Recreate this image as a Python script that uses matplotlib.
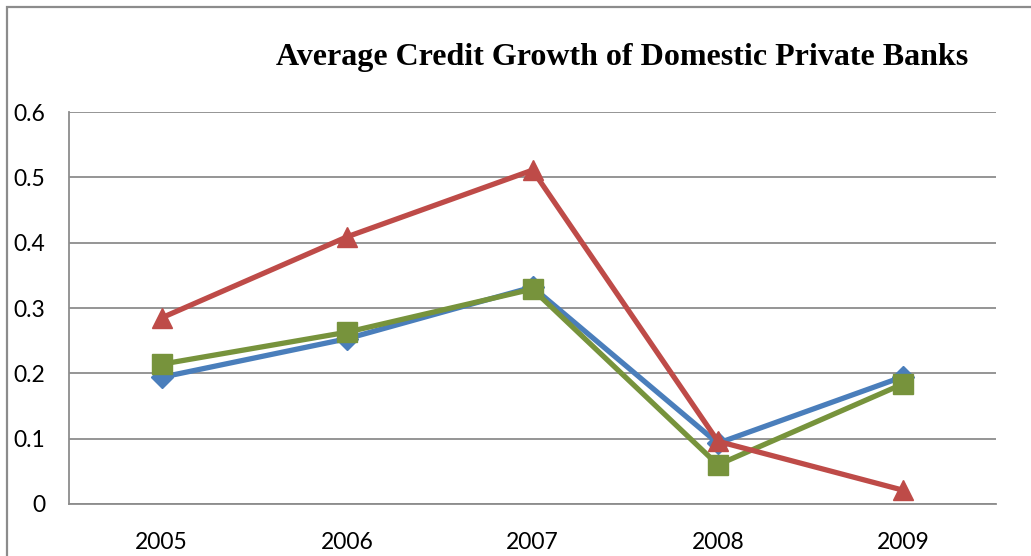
import matplotlib.pyplot as plt
from matplotlib.patches import Rectangle

years = ["2005", "2006", "2007", "2008", "2009"]
blue_vals = [0.194, 0.253, 0.332, 0.093, 0.195]
green_vals = [0.214, 0.263, 0.329, 0.060, 0.184]
red_vals = [0.285, 0.409, 0.511, 0.096, 0.021]

W, H = 1031, 556
fig = plt.figure(figsize=(W / 100, H / 100), dpi=100)
ax = fig.add_axes([69 / W, 1 - 504 / H, (996 - 69) / W, (504 - 112) / H])

x = range(len(years))
ax.plot(x, blue_vals, color="#4A7EBB", lw=3.8, marker="D", ms=11, zorder=3)
ax.plot(x, green_vals, color="#77933C", lw=3.8, marker="s", ms=14, zorder=4)
ax.plot(x, red_vals, color="#BE4B48", lw=3.8, marker="^", ms=15, zorder=5)

ax.set_xlim(-0.5, 4.5)
ax.set_ylim(0, 0.6)
ax.set_yticks([0, 0.1, 0.2, 0.3, 0.4, 0.5, 0.6])
ax.set_yticklabels(["0", "0.1", "0.2", "0.3", "0.4", "0.5", "0.6"])
ax.set_xticks(list(x))
ax.set_xticklabels(years)
ax.tick_params(length=0, labelsize=16.5)
ax.tick_params(axis="y", pad=17)
ax.tick_params(axis="x", pad=20)
for lab in ax.get_xticklabels() + ax.get_yticklabels():
    lab.set_family("Lato")

ax.grid(axis="y", color="#8C8C8C", lw=1.3)
ax.set_axisbelow(True)
for s in ["top", "right"]:
    ax.spines[s].set_visible(False)
ax.spines["left"].set_color("#8C8C8C")
ax.spines["bottom"].set_color("#8C8C8C")
ax.spines["left"].set_linewidth(1.3)
ax.spines["bottom"].set_linewidth(1.3)

fig.text(622 / W, 1 - 58 / H, "Average Credit Growth of Domestic Private Banks",
         ha="center", va="center", fontsize=23, fontweight="bold",
         family="Liberation Serif")

# outer border of the chart frame
fig.patches.append(Rectangle((7 / W, -0.1), 1.2, 1 - 7 / H + 0.1,
                             transform=fig.transFigure, fill=False,
                             edgecolor="#8C8C8C", lw=1.6))

fig.savefig("out.png", dpi=100)
